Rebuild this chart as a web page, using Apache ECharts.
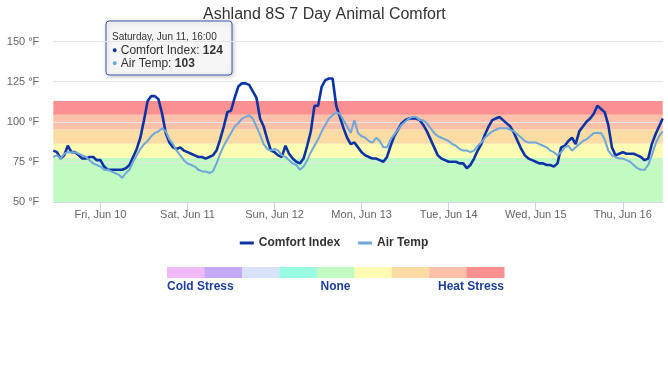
<!DOCTYPE html>
<html><head><meta charset="utf-8">
<script src="https://cdn.jsdelivr.net/npm/echarts@6/dist/echarts.min.js"></script>
<style>html,body{margin:0;padding:0;background:#fff}#c{width:668px;height:376px}</style>
</head><body><div id="c"></div>
<script>
// x values are hours after Jun 9 00:00; hourly data from Jun 9 11:00 to Jun 16 11:00
const startHour = 11;
const comfortIndex = [
 82,81,77,79,85,81,81,79,77,77,78,78,76,
 76,72,70,70,70,70,70,71,73,78,83,90,101,113,116,116,114,105,93,87,84,83,84,82,
 81,80,79,78,78,77,78,79,82,89,97,106,107,115,122,124,124,123,119,115,102,97,89,82,
 81,79,78,85,80,77,75,74,77,85,94,110,110,122,126,127,127,110,103,96,90,86,87,84,
 81,79,78,77,77,76,75,78,85,91,95,99,101,102,102,102,101,98,94,89,84,79,77,76,
 75,75,75,74,74,71,73,77,82,86,92,97,101,102,103,101,99,97,93,88,83,79,77,76,
 75,74,74,73,73,72,74,84,85,88,90,86,94,97,100,102,105,110,108,106,98,84,79,80,
 81,80,80,80,79,78,76,77,86,92,97,102
];
const airTemp = [
 78,79,77,80,81,81,81,80,79,78,76,74,73,
 72,70,70,69,68,67,65,68,70,75,79,83,86,88,91,93,94,96,94,89,86,82,79,76,
 74,73,72,70,69,69,68,69,74,80,85,89,93,97,99,102,103,104,102,97,92,86,83,82,
 83,82,79,78,76,74,73,70,72,76,81,85,89,94,98,102,104,106,105,101,97,93,101,93,
 91,90,88,87,90,88,84,84,89,92,95,98,100,102,103,103,101,101,99,96,93,91,90,89,
 88,86,85,83,82,82,81,82,85,87,90,92,94,95,96,96,96,95,94,92,90,88,87,87,
 87,86,85,84,82,81,79,81,84,85,82,84,86,88,89,91,93,93,93,89,82,79,78,77,
 77,76,75,73,71,70,70,73,79,86,91,94
];
const dayTicks = [24, 48, 72, 96, 120, 144, 168];
const dayLabels = ['Fri, Jun 10', 'Sat, Jun 11', 'Sun, Jun 12', 'Mon, Jun 13', 'Tue, Jun 14', 'Wed, Jun 15', 'Thu, Jun 16'];
const yMin = 50, yMax = 150, yStep = 25;
const bandEdges = [50, 77.5, 86.3, 95.3, 104.3, 113];
const bandColors = ['#c1fbc1', '#fbfbb3', '#fbdca5', '#fbc2a9', '#fb9090'];
const stressColors = ['#f2b9f9', '#c4a9f6', '#d9e2fa', '#99fbe2', '#c1fbc1', '#fbfbb3', '#fbdca5', '#fbc2a9', '#fb9090'];
const stressLabels = ['Cold Stress', 'None', 'Heat Stress'];
const tipHour = 64;
const tipLabel = 'Saturday, Jun 11, 16:00';

const FONT = "'Liberation Sans', Arial, sans-serif";
const cColor = '#0b33a6', aColor = '#6fa7d9';
const tipIdx = tipHour - startHour;

const bands = [];
for (let i = 0; i < bandColors.length; i++) {
  bands.push([{ yAxis: bandEdges[i], itemStyle: { color: bandColors[i], opacity: 1 } }, { yAxis: bandEdges[i + 1] }]);
}

const graphics = [];
// colour key
const barX = 167, barW = 337, barY = 267, barH = 11;
const segW = barW / stressColors.length;
stressColors.forEach((c, i) => {
  graphics.push({ type: 'rect', silent: true, shape: { x: barX + i * segW, y: barY, width: segW + 0.5, height: barH }, style: { fill: c } });
});
const lblStyle = { font: 'bold 12px ' + FONT, fill: '#1f3f9c', verticalAlign: 'middle' };
graphics.push({ type: 'text', x: barX, y: 287, style: Object.assign({ text: stressLabels[0], align: 'left' }, lblStyle) });
graphics.push({ type: 'text', x: barX + barW / 2, y: 287, style: Object.assign({ text: stressLabels[1], align: 'center' }, lblStyle) });
graphics.push({ type: 'text', x: barX + barW, y: 287, style: Object.assign({ text: stressLabels[2], align: 'right' }, lblStyle) });
// static tooltip
graphics.push({
  type: 'group', x: 106, y: 21, z: 100, children: [
    { type: 'rect', shape: { x: 0, y: 0, width: 126, height: 54, r: 3 },
      style: { fill: 'rgba(250,250,250,0.93)', stroke: '#3d5ab3', lineWidth: 1, shadowBlur: 4, shadowOffsetX: 1, shadowOffsetY: 1, shadowColor: 'rgba(0,0,0,0.25)' } },
    { type: 'text', x: 6, y: 16, style: { text: tipLabel, font: '10px ' + FONT, fill: '#333', verticalAlign: 'middle' } },
    { type: 'text', x: 6, y: 30, style: { text: '{d|●} Comfort Index: {b|' + comfortIndex[tipIdx] + '}', font: '12px ' + FONT, fill: '#333', verticalAlign: 'middle',
      rich: { d: { fill: cColor, fontSize: 9, fontFamily: FONT }, b: { fontWeight: 'bold', fontSize: 12, fontFamily: FONT, fill: '#333' } } } },
    { type: 'text', x: 6, y: 43, style: { text: '{d|●} Air Temp: {b|' + airTemp[tipIdx] + '}', font: '12px ' + FONT, fill: '#333', verticalAlign: 'middle',
      rich: { d: { fill: aColor, fontSize: 9, fontFamily: FONT }, b: { fontWeight: 'bold', fontSize: 12, fontFamily: FONT, fill: '#333' } } } }
  ]
});

const chart = echarts.init(document.getElementById('c'), null, { renderer: 'canvas' });
chart.setOption({
  animation: false,
  backgroundColor: '#fff',
  textStyle: { fontFamily: FONT },
  title: { text: 'Ashland 8S 7 Day Animal Comfort', left: 198, top: 2,
    textStyle: { fontSize: 16, fontWeight: 'normal', color: '#333', fontFamily: FONT } },
  legend: { data: ['Comfort Index', 'Air Temp'], left: 'center', top: 232, icon: 'rect', itemWidth: 14, itemHeight: 3, itemGap: 18,
    textStyle: { fontSize: 12, fontWeight: 'bold', color: '#333', fontFamily: FONT } },
  grid: { left: 53.3, right: 5.3, top: 41.7, bottom: 174.2, containLabel: false },
  xAxis: {
    type: 'value', min: startHour, max: startHour + comfortIndex.length - 1, z: 3,
    axisLine: { show: true, onZero: false, lineStyle: { color: '#ccd6eb', width: 1 } },
    axisTick: { show: true, customValues: dayTicks, length: 9, lineStyle: { color: '#ccd6eb' } },
    axisLabel: { customValues: dayTicks, formatter: v => dayLabels[dayTicks.indexOf(v)], color: '#666', fontSize: 11, margin: 8, fontFamily: FONT },
    splitLine: { show: false }
  },
  yAxis: {
    type: 'value', min: yMin, max: yMax, interval: yStep, z: 3,
    axisLine: { show: false }, axisTick: { show: false },
    axisLabel: { formatter: '{value} °F', color: '#666', fontSize: 11, margin: 14, fontFamily: FONT },
    splitLine: { lineStyle: { color: '#e6e6e6', width: 1 } }
  },
  series: [
    { name: 'bands', type: 'line', data: [], z: 1, silent: true,
      markArea: { silent: true, z: 1, data: bands } },
    { name: 'Comfort Index', type: 'line', z: 4, showSymbol: false, symbol: 'none', color: cColor,
      lineStyle: { width: 2.6, color: cColor }, data: comfortIndex.map((v, i) => [startHour + i, v]) },
    { name: 'Air Temp', type: 'line', z: 4, showSymbol: false, symbol: 'none', color: aColor,
      lineStyle: { width: 2, color: aColor }, data: airTemp.map((v, i) => [startHour + i, v]) }
  ],
  graphic: graphics
});
</script></body></html>
